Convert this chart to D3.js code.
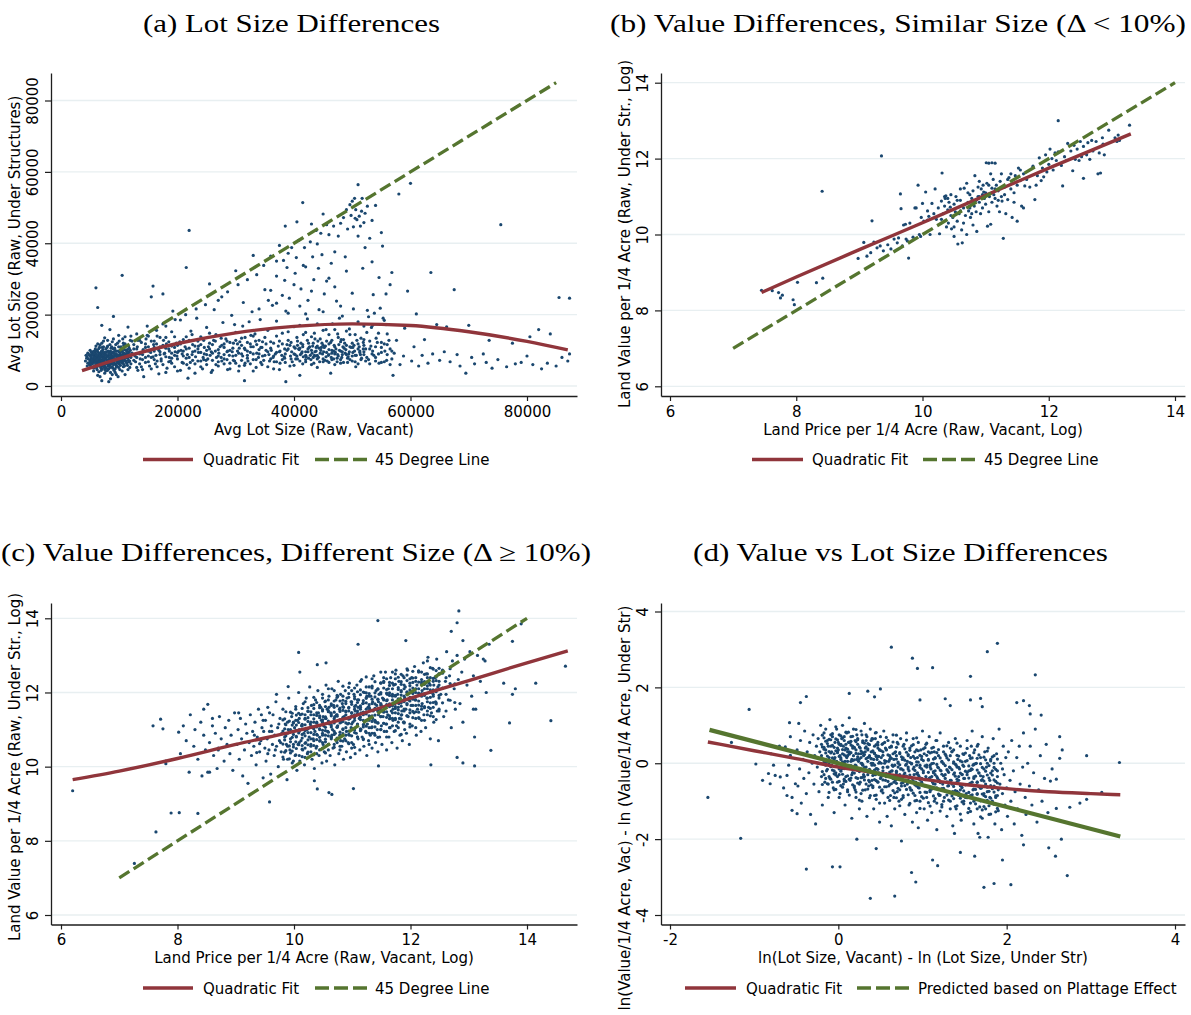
<!DOCTYPE html>
<html><head><meta charset="utf-8">
<script src="https://cdn.jsdelivr.net/npm/d3@7"></script>
<style>body{margin:0;background:#fff}svg{display:block}</style>
</head><body>
<script>
// ---------------- DATA ----------------
const panelTitles = ["(a) Lot Size Differences", "(b) Value Differences, Similar Size (Δ < 10%)", "(c) Value Differences, Different Size (Δ ≥ 10%)", "(d) Value vs Lot Size Differences"];
const xTitles = ["Avg Lot Size (Raw, Vacant)", "Land Price per 1/4 Acre (Raw, Vacant, Log)", "Land Price per 1/4 Acre (Raw, Vacant, Log)", "ln(Lot Size, Vacant) - ln (Lot Size, Under Str)"];
const yTitles = ["Avg Lot Size (Raw, Under Structures)", "Land Value per 1/4 Acre (Raw, Under Str., Log)", "Land Value per 1/4 Acre (Raw, Under Str., Log)", "ln(Value/1/4 Acre, Vac) - ln (Value/1/4 Acre, Under Str)"];
const legendFit = "Quadratic Fit";
const legendRef = ["45 Degree Line", "45 Degree Line", "45 Degree Line", "Predicted based on Plattage Effect"];

const ticksA_x = [0, 20000, 40000, 60000, 80000];
const ticksA_y = [0, 20000, 40000, 60000, 80000];
const ticksB_x = [6, 8, 10, 12, 14];
const ticksB_y = [6, 8, 10, 12, 14];
const ticksC_x = [6, 8, 10, 12, 14];
const ticksC_y = [6, 8, 10, 12, 14];
const ticksD_x = [-2, 0, 2, 4];
const ticksD_y = [-4, -2, 0, 2, 4];

// (a) quadratic fit and 45-degree line
const fitA_x = [3600, 10000, 20000, 30000, 40000, 50000, 60000, 70000, 80000, 87000];
const fitA_y = [4300, 7700, 11900, 14900, 16700, 17400, 16950, 15200, 12500, 10100];
const refA_x = [10000, 85000];
const refA_y = [10000, 85000];
// (b)
const fitB_x = [7.45, 8, 9, 10, 11, 12, 13.3];
const fitB_y = [8.47, 8.88, 9.6, 10.31, 11.03, 11.75, 12.65];
const refB_x = [7, 14];
const refB_y = [7, 14];
// (c)
const fitC_x = [6.2, 7, 8, 9, 10, 11, 12, 13, 14, 14.7];
const fitC_y = [9.65, 9.88, 10.22, 10.6, 10.95, 11.35, 11.85, 12.32, 12.8, 13.12];
const refC_x = [7, 14];
const refC_y = [7, 14];
// (d)
const fitD_x = [-1.55, -1, -0.5, 0, 0.5, 1, 1.5, 2, 2.5, 3, 3.35];
const fitD_y = [0.56, 0.33, 0.12, -0.1, -0.27, -0.42, -0.56, -0.67, -0.75, -0.8, -0.83];
const refD_x = [-1.53, 3.35];
const refD_y = [0.88, -1.93];

// (a) scatter: [vacant lot size, lot size under structures]
const lotPoints = [
[4500,8200],[4800,6500],[5000,7200],[5200,5400],[5300,8800],[5500,6800],[5600,4200],[5700,7600],[5800,9500],[6000,6000],[6000,27500],[6100,5100],[6200,8000],[6300,22000],[6300,3000],[6400,7000],[6500,9200],[6600,5800],[6700,11500],[6800,6600],[6900,8400],[7000,4800],[7000,17000],[7100,7400],[7200,10200],[7300,6200],[7400,8800],[7500,3600],[7500,13500],[7600,5400],[7700,7800],[7800,9600],[7900,6800],[8000,4400],[8000,11200],[8100,7200],[8200,8600],[8300,5800],[8400,15800],[8500,9800],[8500,2000],[8600,6400],[8700,7600],[8800,12400],[8900,5000],[9000,8200],[9000,19500],[9100,6800],[9200,10600],[9300,3800],[9400,7400],[9500,9000],[9600,5600],[9700,12000],[9800,7800],[9900,14200],[10000,6200],[10000,9600],[10100,4600],[10200,8400],[10300,11000],[10500,31000],[10500,7000],[10600,13200],[10700,5400],[10800,9200],[10900,7600],[11000,11800],[11000,3200],[11200,8600],[11300,6400],[11400,10200],[11500,16500],[11600,7200],[11700,9400],[11800,5200],[11900,12800],[12000,8000],
[5200,7800],[5600,8400],[5900,7000],[6200,6600],[6400,8600],[6600,7400],[6800,9000],[7000,6400],[7200,8200],[7400,7000],[7600,9000],[7800,7400],[8000,8200],[8200,6600],[8400,7800],[8600,8800],[8800,7000],[9000,7000],[9200,8800],[9400,6000],[9600,8000],[9800,9800],[6500,10500],[7300,11000],[8600,10600],[9400,11600],[5800,5600],[6900,5000],[8100,5600],[9300,4800],[7700,4200],[6100,9800],[10400,8000],[10800,6000],[7000,8600],[8300,9400],[7000,1500],[8200,1200],[9800,2600],[6700,2600],[8800,3200],
[5400,6200],[6000,7600],[6600,8200],[7200,5800],[7800,6200],[8400,7000],[9000,9400],[9600,7000],[10200,7400],[10800,8400],[11400,7800],[7500,8000],[8900,8000],[6300,6800],[5000,8600],
[4200,7000],[4300,8600],[4500,5600],[4600,9200],[4700,7600],[4900,6000],[5000,10000],[5100,8200],[5300,6400],[5400,9600],[5500,7400],[5600,5000],[5700,8800],[5800,6600],[5900,10400],[6000,8400],[6100,7200],[6200,4600],[6300,9600],[6400,5600],[6500,7800],[6600,10800],[6700,6200],[6800,8000],[6900,4400],[7000,9800],[7100,5600],[7200,7000],[7300,12600],[7400,9400],[7500,6000],[7600,7600],[7700,10400],[7800,5000],[7900,8400],[8000,6200],[8100,9800],[8200,4800],[8300,7600],[8400,11600],[8500,6000],[8600,8000],[8700,9200],[8800,5400],[8900,7200],[9000,10400],[9100,4400],[9200,6200],[9300,8600],[9400,9800],[9500,5400],[9600,7400],[9700,8600],[9800,6400],[9900,11000],[10000,7800],[10100,9000],[10200,5800],[10300,7200],[10400,10400],[10500,8800],[10600,6400],[10700,8000],[10800,11400],[10900,5600],[11000,9000],[11100,7000],[11200,10000],[11300,8000],[11400,5800],[11500,9600],[11600,11200],[11700,6800],[11800,8200],[11900,10000],[12000,6200],[5500,9000],[6200,10000],[6800,7200],[7400,5200],[7900,10800],[8400,5200],[8900,9400],[9400,8400],[9900,6800],[10400,6600],[10900,10200],[11400,8800],[5000,5800],[6000,11200],[7000,12000],[8000,12800],[9000,13200],[10000,12600],[11000,13800],[12000,14000],[6500,4000],[7500,4600],[8500,3800],[9500,3200],[10500,4200],[11500,4600],
[4400,7800],[4600,6400],[4800,8800],[5000,6600],[5200,9400],[5400,7200],[5600,8000],[5800,7800],[6000,9000],[6200,7400],[6400,6200],[6600,9000],[6800,5400],[7000,7200],[7200,9200],[7400,7800],[7600,6400],[7800,8600],[8000,7000],[8200,9200],[8400,6400],[8600,7200],[8800,8400],[9000,6000],[9200,7600],[9400,9000],[9600,6600],[9800,8600],[10000,7000],[10200,9600],[10400,7600],[10600,9400],[10800,7000],[11000,8200],[11200,6800],[11400,9200],[11600,8400],[11800,7000],[5300,7000],[5700,9800],[6100,8600],[6500,6600],[6900,9600],[7300,7600],[7700,8800],[8100,6800],[8500,8400],[8900,6600],[9300,10000],[9700,7200],[10100,8200],[10500,10000],[10900,8800],[11300,9600],[11700,10600],[6300,11800],[7100,10800],[8700,11000],[9900,5200],[10700,12000],
[12500,10400],[12800,6800],[13000,14600],[13200,4400],[13500,9000],[13800,12200],[14000,7400],[14200,2600],[14500,10800],[14800,16800],[15000,8400],[15200,5600],[15500,25000],[15500,12600],[15800,28000],[16000,9800],[16200,6200],[16500,14000],[16800,3400],[17000,11000],[17200,7600],[17500,25800],[17500,17400],[17800,9200],[18000,13600],[18200,5000],[18500,10400],[18800,7000],[19000,15200],[19200,21000],[19500,8600],[19800,12000],[20000,4200],[20200,9800],[20500,18500],[20800,6600],[21000,13000],[21500,33200],[21500,10400],[21800,2200],[22000,8000],[22000,43600],[22300,15400],[22600,11600],[23000,6200],[23300,19000],[23600,9400],[24000,13800],[24300,4800],[24600,10800],[25000,16400],[25200,7600],[25500,28600],[25500,12000],[25800,3800],[26000,9200],[26300,21400],[26600,14400],[27000,6800],[27300,11000],[27600,25000],[27800,17800],[28000,8800],[28300,13200],[28600,4600],[29000,10000],[29300,19800],[29600,7200],[30000,15000],[30000,32300],[30300,11800],[30600,5600],[31000,9000],[31300,23400],[31500,1500],[31600,13600],[32000,7800],[32300,18000],[32600,11000],[33000,36600],[33000,4200],[33300,14600],[33600,9200],[34000,21600],[34300,6600],[34600,12400],[35000,27000],
[13000,8000],[14000,9600],[15000,11000],[16000,7400],[17000,8800],[18000,10600],[19000,6400],[20000,11400],[21000,8400],[22000,12800],[23000,9800],[24000,7000],[25000,10000],[26000,11600],[27000,8400],[28000,10800],[29000,6400],[30000,8600],[31000,11400],[32000,9800],[33000,7400],[34000,10200],[13800,5400],[15800,8200],[17600,12800],[19600,9600],[21600,6000],[23600,11200],[25600,8600],[27600,7000],[29600,12000],[31600,6400],[33600,11600],[12200,12600],[14600,13200],[16400,11800],[18600,8000],[20600,10000],[22600,7200],[24600,9000],[26600,6000],[28600,9800],[30600,10600],[32600,14200],[34600,8400],
[12500,7200],[12500,11600],[13000,5200],[13000,10400],[13500,12800],[13500,6200],[14000,8800],[14000,4600],[14500,6600],[14500,11800],[15000,9800],[15000,14000],[15500,4800],[15500,8000],[16000,10800],[16000,12600],[16500,7000],[16500,5400],[17000,13600],[17000,9600],[17500,6000],[17500,11400],[18000,8200],[18000,3800],[18500,12400],[18500,6800],[19000,9200],[19000,11200],[19500,5400],[19500,13800],[20000,7600],[20000,9400],[20500,11800],[20500,4400],[21000,6400],[21000,9800],[21500,13800],[21500,7800],[22000,5000],[22000,10600],[22500,8800],[22500,14400],[23000,11200],[23000,3600],[23500,7000],[23500,12600],[24000,9400],[24000,5400],[24500,12800],[24500,7400],[25000,6000],[25000,8800],[25500,10400],[25500,14800],[26000,4400],[26000,7200],[26500,9800],[26500,12600],[27000,5600],[27000,10200],[27500,8000],[27500,13400],[28000,6200],[28000,11800],[28500,9600],[28500,7400],[29000,12200],[29000,4800],[29500,8400],[29500,10600],[30000,6400],[30000,12800],[30500,9200],[30500,4200],[31000,7200],[31000,13400],[31500,10600],[31500,5800],[32000,8600],[32000,12200],[32500,6200],[32500,9400],[33000,11000],[33000,14000],[33500,7400],[33500,5200],[34000,9000],[34000,12800],[34500,6000],[34500,10800],[35000,8600],[35000,13600],[35500,5400],[35500,9600],[36000,10600],[36000,7600],[36500,12000],[36500,8400],[37000,6800],[37000,14000],[37500,9600],[37500,4600],[38000,7400],[38000,11800],[38500,9000],[38500,6600],[39000,10400],[39000,15200],[39500,7600],[39500,12200],[40000,5800],[40000,11000],[40500,8400],[40500,13600],[41000,10600],[41000,7000],[41500,6200],[41500,11600],[42000,9600],[42000,15000],[42500,7800],[42500,12000],[43000,6000],[43000,10000],[43500,8600],[43500,14800],[44000,11200],[44000,7600],[44500,9200],[44500,13200],[45000,6800],[45000,11400],[45500,8200],[45500,15800],[46000,10200],[46000,6600],[46500,7400],[46500,12800],[47000,11000],[47000,6000],[47500,8800],[47500,14600],[48000,9800],[48000,7400],[48500,6600],[48500,13000],[49000,11400],[49000,8800],[49500,9600],[49500,16000],[50000,7000],[50000,12000],[50500,8600],[50500,14400],[51000,10400],[51000,6200],[51500,7400],[51500,13400],[52000,11400],[52000,9600],[52500,8000],[52500,15000],[53000,6200],[53000,12600],[53500,9800],[53500,17000],[54000,7000],[54000,11000],[54500,9000],[54500,14800],[55000,10800],[55000,12200],[55500,6800],[55500,18400],[56000,8800],[56000,11600],[56500,10400],[56500,6000],
[12200,9200],[12700,8400],[13100,11000],[13600,7600],[14100,10200],[14500,8000],[15000,6800],[15400,9400],[15900,11600],[16300,8600],[16800,10000],[17200,7000],[17700,9000],[18100,11800],[18600,9800],[19000,7800],[19500,10800],[19900,8400],[20400,12400],[20800,9000],[21300,11000],[21700,8800],[22200,6600],[22600,9600],[23100,8200],[23500,10400],[24000,11600],[24400,8000],[24900,7200],[25300,11000],[25800,9600],[26200,12800],[26700,8000],[27100,9200],[27600,11400],[28000,7600],[28500,12600],[28900,8600],[29400,9600],[29800,7000],[30300,9800],[30700,12400],[31200,8400],[31600,10200],[32100,7000],[32500,11800],[33000,9000],[33400,12600],[33900,8000],[34300,10800],[34800,7200],[35200,11800],[35700,8800],[36100,10000],[36600,6800],[37000,9400],[37500,12600],[37900,8600],[38400,7800],[38800,10000],[39300,11400],[39700,6800],[40200,10600],[40600,7600],[41100,8800],[41500,11000],[42000,8600],[42400,10400],[42900,7400],[43300,12000],[43800,9800],[44200,8000],[44700,10800],[45100,9600],[45600,12600],[46000,8800],[46500,9200],[46900,11400],[47400,7800],[47800,10000],[48300,9600],[48700,12000],[49200,7800],[49600,11000],[50100,9400],[50500,6800],[51000,11800],[51400,8800],[51900,12200],[52300,10400],[52800,7400],[53200,11200],[53700,8600],[54100,13400],[54600,6400],[55000,9400],[55500,11800],[55900,7200],[56300,12800],[56800,9800],
[35200,10000],[35500,15600],[35800,7000],[36000,36400],[36000,12400],[36300,22600],[36500,4800],[36800,9000],[37000,18200],[37000,30800],[37300,11200],[37500,39400],[37600,6400],[38000,14800],[38000,25400],[38300,8200],[38500,44800],[38600,1200],[38800,11600],[39000,20400],[39000,37200],[39300,5600],[39600,9600],[40000,16600],[40000,28400],[40300,7600],[40500,46000],[40600,12600],[41000,22400],[41000,3000],[41300,9200],[41500,51400],[41600,14400],[42000,33400],[42000,6800],[42300,18800],[42600,10800],[43000,26600],[43000,45400],[43300,8000],[43600,13200],[44000,39800],[44000,5200],[44300,21400],[44600,10000],[45000,48200],[45000,15600],[45300,7200],[45600,29400],[46000,11800],[46000,42400],[46300,3600],[46600,17400],[47000,9000],[47000,37600],[47300,23800],[47600,13600],[48000,45600],[48000,6400],[48300,19600],[48600,10600],[49000,32200],[49000,49400],[49300,8200],[49600,14400],[50000,51800],[50000,26000],[50300,11400],[50500,47000],[50600,5400],[51000,56400],[51000,42000],[51000,18000],[51300,9400],[51600,49000],[51800,33000],[52000,13000],[52000,45800],[52300,7000],[52600,21200],[53000,41400],[53000,10400],[53300,16400],[53600,25600],[54000,8000],[54000,50600],[54300,12200],[54600,30400],[55000,43000],[55000,6600],[55300,19000],[55600,9800],[56000,14600],[56500,28400],[56800,7600],[57000,3000],
[40000,9000],[40800,10400],[41600,8200],[42400,9600],[43200,11200],[44000,8600],[44800,12000],[45600,9400],[46400,8000],[47200,10400],[48000,12400],[48800,9200],[49600,7400],[50400,9800],[51200,11000],[52000,8800],[42000,7400],[43600,9600],[45200,10800],[46800,7600],[48400,11000],[50000,8400],[41200,12000],[44400,6800],[47600,8400],[50800,12800],[39400,8400],[38400,10400],[36400,8000],[37600,9800],[43000,13800],[46000,14400],[49000,15400],[52000,16800],[44000,17400],[47000,15800],[41000,17000],[39000,12800],[45000,7600],[46800,9800],[48200,8000],[43800,10800],[42800,8600],[49800,10800],[51600,7800],[53400,9000],
[40200,8800],[40900,10200],[41400,9600],[42100,8200],[42700,11000],[43100,9200],[43700,8400],[44300,10600],[44900,9000],[45400,11200],[45900,8600],[46500,10000],[47100,9400],[47700,11600],[48300,8800],[48900,10200],[49400,9000],[50100,10800],[50700,8600],[51300,9800],[44100,12600],[46300,12200],[48100,13000],[42300,12800],[40600,11400],[45700,7000],[47400,6800],[49200,6600],[43400,6400],[51900,10400],
[48500,47200],[49200,44000],[49800,47800],[50200,44600],[50600,49400],[50800,46600],[51200,47600],[51400,44800],[51700,52600],[52200,48400],[52600,50400],[53400,46400],[50400,52600],[49600,50800],[47600,42000],[46800,44800],[45600,45200],[44600,42800],[43800,43600],[42800,40400],[41800,38800],[40400,36000],[39600,38800],[38200,35200],[37000,35000],[34800,33800],[33600,31200],[32000,29800],[30400,28400],[28600,26400],[27000,24000],[24800,22800],[23200,21600],[21400,20000],[19600,18600],[18000,16800],[16400,15600],[14800,14200],[13200,12800],
[36000,26800],[37000,23200],[38400,29600],[39200,24600],[40200,31600],[41200,27200],[42400,24000],[43400,29800],[44200,33000],[45200,25800],[46000,30200],[47000,27800],[48000,22400],[48800,36200],[46400,34400],[44800,36800],[43200,36200],[41600,33800],[40800,40800],[38800,33200],[35600,24000],[34200,18600],[32800,20800],[31200,16800],[29800,17200],[38600,21000],[42000,20200],[45000,20800],[47800,19000],[50200,21600],[52800,19400],[53800,20400],[54800,21800],[55800,17200],[53400,34800],[52200,38800],[55200,39200],[56800,31800],[55800,25800],
[57200,9200],[57600,12800],[58000,53800],[58200,6000],[58800,8400],[59000,16200],[59500,26600],[60000,56800],[60200,7000],[60600,11000],[61000,20200],[61400,5600],[62000,8600],[62400,13000],[63000,6400],[63500,31800],[63800,9000],[64500,17200],[65000,7200],[65800,9600],[66200,16600],[66800,6800],[67500,27000],[68000,8800],[68500,5600],[69500,3600],[70000,17000],[70500,8000],[71000,6200],[72500,9000],[73000,6600],[73500,12800],[74000,5000],[75000,7400],[75500,45200],[76500,5400],[77500,12000],[78000,6200],[79000,6600],[80000,8400],[80500,13800],[81000,6000],[82000,15800],[82500,4800],[83500,6400],[84000,14600],[85000,5600],[85500,24800],[86000,8000],[87300,24600],[87300,9000],[87000,7000]
];

// (b) scatter: [log vacant price, log value under structures]
const simPoints = [
[7.45,8.53],[7.62,8.52],[7.72,8.47],[7.75,8.33],[7.78,8.4],[7.95,8.28],[7.97,8.15],[8.02,8.74],[8.32,8.73],[8.42,8.85],[8.41,11.14],[9.35,12.07],
[8.98,9.37],[9.07,9.79],[9.12,9.43],[9.18,9.52],[9.2,10.36],[9.23,9.8],[9.28,9.65],[9.33,9.7],[9.38,9.57],[9.45,9.73],[9.5,9.62],[9.55,9.88],[9.6,9.78],[9.62,9.91],[9.65,11.07],[9.66,10.68],[9.68,9.7],[9.7,10.25],[9.73,10.27],[9.74,9.88],[9.76,9.83],[9.78,9.38],[9.8,10.3],[9.85,9.93],[9.88,10.7],[9.93,11.3],[9.95,10],[9.97,9.95],
[10,10.82],[10.02,10.35],[10.05,11.12],[10.08,10.62],[10.1,10.48],[10.12,10],[10.15,10.82],[10.18,10.55],[10.2,11.2],[10.22,10.4],[10.25,10.7],[10.27,10.02],[10.3,10.88],[10.31,11.62],[10.33,10.55],[10.35,10.75],[10.36,10.95],[10.37,11.02],[10.38,10.2],[10.4,10.65],[10.41,10.3],[10.42,10.85],[10.44,10.72],[10.45,11.05],[10.46,10.15],[10.48,10.45],[10.5,9.95],[10.5,10.8],[10.52,10.6],[10.53,11],[10.55,10.35],[10.56,9.75],[10.58,10.55],[10.6,10.9],[10.6,11.2],[10.62,10.12],[10.63,9.78],[10.65,10.7],[10.66,11.22],[10.68,10.5],[10.7,10],[10.7,11.35],[10.72,10.85],[10.73,10.62],[10.75,11.05],[10.76,10.45],[10.78,10.95],[10.8,11.15],[10.8,10.25],[10.82,10.75],[10.83,11.55],[10.85,10.6],[10.86,10.08],[10.88,11],[10.9,10.85],[10.9,11.4],[10.92,10.55],[10.93,11.2],[10.95,10.7],[10.96,11.3],[10.98,10.95],[11,11.1],[11,10.8],[11.02,11.35],[11.03,10.22],[11.05,11.88],[11.06,11],[11.08,10.27],[11.1,11.22],[11.1,10.85],[11.12,11.45],[11.13,11.05],[11.15,11.88],[11.15,10.95],[11.17,11.3],[11.18,10.75],[11.2,11.15],[11.22,10.6],[11.23,11.4],[11.25,11],[11.26,10.88],[11.28,9.9],[11.3,11.25],[11.32,10.55],[11.35,10.92],[11.37,11.5],[11.4,11.2],[11.42,10.45],[11.45,11.1],[11.47,11.55],[11.5,10.35],[11.5,11.3],[11.52,11.75],[11.55,11.42],[11.57,10.75],[11.6,11.6],[11.62,11.28],[11.65,11.45],[11.7,11.25],[11.75,11.8],[11.78,10.92],[11.8,11.3],[11.82,11.55],[11.85,12.02],[11.88,11.42],[11.9,11.75],[11.92,11.52],[11.95,12.1],[11.97,11.65],[12,11.85],[12.02,12.25],[12.05,12],[12.07,11.7],[12.1,12.15],[12.12,11.95],[12.15,13],[12.15,12.18],[12.2,11.82],[12.22,11.28],[12.25,12.05],[12.28,11.95],[12.3,12.4],[12.35,12.2],[12.38,11.68],[12.4,12.35],[12.42,11.98],[12.45,12.25],[12.48,11.95],[12.5,12.45],[12.52,12.05],[12.55,11.48],[12.55,12.32],[12.6,12.1],[12.62,12.42],[12.65,11.98],[12.68,12.48],[12.7,12.2],[12.75,12.45],[12.78,11.6],[12.8,12.15],[12.82,11.62],[12.85,12.55],[12.86,12.38],[12.88,12.1],[12.95,12.75],[13.05,12.55],[13.08,12.45],[13.1,12.62],[13.12,12.48],[13.28,12.88],
[10.35,11],[10.45,10.5],[10.55,10.9],[10.65,10.3],[10.75,10.7],[10.85,10.9],[10.95,11.05],[11.05,10.6],[10.4,10.95],[10.6,10.62],[10.9,11],[11.15,11.2],[10.5,10.2],[10.3,10.4],[9.9,10.7],[9.98,10.45],[10.08,10.38],[11.35,11.45],[11.45,10.85],[11.6,10.7],[11.25,11.6],[11.08,11.6],[11.01,11.89],[11.1,11.89],[10.72,11.1],[10.97,11.12],[11.05,11.3],[11.2,10.9],[11.3,11.05],[10.88,11.25],[10.78,10.55],[11.4,11.6],[11.55,11.7]
];

// (c) scatter: [log vacant price, log value under structures]
const diffPoints = [
[6.2,9.35],[7.26,7.39],[7.63,8.24],[7.89,8.75],[8.03,8.76],[8.35,8.74],[7.58,11.1],[7.71,11.28],[7.8,10.15],[7.8,10.08],[8.02,10.93],[7.75,11.02],[8.45,11.55],[8.52,9.85],[8.6,11.3],[8.7,10.45],[9.05,11.45],[9.58,9.05],[10.08,13.08],[10.1,12.55],[10.4,12.75],[10.55,12.8],[11.1,13.3],[11.44,13.94],[11.92,13.4],[12.83,14.2],[12.8,13.88],[12.7,13.65],[12.9,13.4],[13.9,13.85],[13.75,13.38],[14.66,12.71],[14.41,11.24],[14.15,12.25],[13.8,12.1],[13.75,11.95],[13.6,12.25],[13.7,11.18],[13.38,10.44],[13.1,10.8],[13.08,11.55],[13.1,10.02],[12.9,10.1],[12.8,10.25],[12.35,10.05],[11.02,9.41],[10.6,9.3],[10.65,9.25],[10.4,9.4],[10.35,9.62],[11.45,10.02],[13.3,12],[13.25,12.9],[9.9,12.16],
[8.05,10.35],[8.1,11.1],[8.15,10.7],[8.2,9.85],[8.22,11.4],[8.28,10.55],[8.3,11],[8.35,10.2],[8.4,11.2],[8.42,9.75],[8.45,10.85],[8.48,10.45],
[8.52,11.68],[8.55,9.85],[8.55,10.65],[8.6,11.1],[8.62,10.3],[8.65,10.9],[8.68,9.95],[8.7,10.5],[8.72,11.35],[8.75,10.75],[8.8,10.15],[8.82,11.05],[8.85,10.6],[8.88,11.25],[8.9,10.35],[8.92,10.85],[8.95,9.9],[8.98,11.45],
[9.02,10.6],[9.04,11],[9.06,10.2],[9.08,11.3],[9.1,10.75],[9.12,9.75],[9.15,10.45],[9.17,11.15],[9.19,10.9],[9.21,9.55],[9.23,10.65],[9.25,11.4],[9.27,10.3],[9.29,10.95],[9.31,10.55],[9.33,11.2],[9.35,10.05],[9.37,10.8],[9.39,11.55],[9.41,10.4],[9.43,10.7],[9.45,11.05],[9.47,9.7],[9.48,10.95],[9.5,10.5],
[9.32,10.85],[9.41,10.62],[9.47,11.25],[9.55,10.35],[9.62,10.95],[9.68,10.45],[9.74,11.15],[9.77,10.65],[9.36,10.38],[9.44,11.4],[9.58,11.45],[9.7,11.95],
[9.51,11.25],[9.52,10.15],[9.54,10.75],[9.55,11.6],[9.57,10.45],[9.58,10.95],[9.6,9.8],[9.61,11.1],[9.63,10.6],[9.64,11.4],[9.66,10.3],[9.67,10.85],[9.69,11.75],[9.7,10.55],[9.72,11.05],[9.73,10],[9.75,10.7],[9.76,11.3],[9.78,10.4],[9.79,10.9],[9.81,11.55],[9.82,10.2],[9.84,10.8],[9.85,11.15],[9.87,10.6],[9.88,9.65],[9.9,11],[9.91,11.85],[9.93,10.45],[9.94,10.75],[9.96,11.35],[9.97,10.1],[9.98,10.95],[9.99,11.2],[9.99,10.6],
[10.01,11.05],[10.02,10.3],[10.03,11.55],[10.04,10.8],[10.05,9.9],[10.06,11.25],[10.07,10.6],[10.08,12],[10.09,10.95],[10.1,10.15],[10.11,11.4],[10.12,10.7],[10.13,11.1],[10.15,10.45],[10.16,11.7],[10.17,10.9],[10.18,10.05],[10.19,11.3],[10.2,10.65],[10.21,11.85],[10.22,11],[10.23,10.35],[10.24,11.5],[10.26,10.8],[10.27,12.15],[10.28,11.15],[10.29,10.55],[10.3,11.65],[10.31,10.2],[10.32,11.05],[10.33,10.75],[10.34,11.4],[10.35,9.95],[10.36,10.95],[10.37,11.8],[10.38,10.5],[10.39,11.2],[10.4,10.85],[10.41,12.05],[10.42,11.45],[10.43,10.3],[10.44,11],[10.45,10.7],[10.46,11.6],[10.47,11.25],[10.48,10.1],[10.49,10.9],[10.49,11.95],[10.5,11.35],[10.5,10.6],
[10.51,11.1],[10.52,10.4],[10.53,11.75],[10.54,10.85],[10.55,12.2],[10.55,11.3],[10.56,10.15],[10.57,11.55],[10.58,10.95],[10.59,10.6],[10.6,11.9],[10.61,11.15],[10.62,10.3],[10.63,11.45],[10.64,10.8],[10.65,12.1],[10.66,11],[10.67,10.5],[10.68,11.65],[10.69,11.25],[10.7,10.05],[10.71,10.9],[10.72,11.8],[10.73,11.4],[10.74,10.65],[10.75,11.1],[10.76,12.3],[10.77,10.35],[10.78,11.55],[10.79,10.85],[10.8,11.95],[10.81,11.2],[10.82,10.55],[10.83,11.7],[10.84,11],[10.85,10.2],[10.86,11.35],[10.87,10.75],[10.88,12.05],[10.89,11.5],[10.9,10.95],[10.9,10.4],[10.91,11.85],[10.92,11.15],[10.93,10.65],[10.94,11.6],[10.95,10.85],[10.95,12.25],[10.96,11.3],[10.97,10.25],[10.98,11.05],[10.98,11.75],[10.99,10.5],[10.99,11.45],[10.6,11.6],[10.7,11.35],[10.8,10.7],[10.65,10.85],[10.85,11.6],[10.75,11.9],
[11.01,11.2],[11.02,10.6],[11.03,11.95],[11.04,11.4],[11.05,10.35],[11.06,11.65],[11.07,10.9],[11.08,12.2],[11.09,11.1],[11.1,10.75],[11.11,11.8],[11.12,11.3],[11.13,10.45],[11.14,11.55],[11.15,11],[11.16,12.35],[11.17,10.8],[11.18,11.7],[11.19,11.25],[11.2,10.55],[11.21,12],[11.22,11.45],[11.23,10.95],[11.24,11.85],[11.25,10.3],[11.26,11.15],[11.27,11.6],[11.28,10.7],[11.29,12.15],[11.3,11.35],[11.31,10.85],[11.32,11.9],[11.33,11.05],[11.34,10.5],[11.35,11.75],[11.36,11.5],[11.37,12.45],[11.38,10.9],[11.39,11.25],[11.4,10.65],[11.41,12.05],[11.42,11.65],[11.43,11],[11.44,10.4],[11.45,11.4],[11.46,11.95],[11.47,10.8],[11.48,11.55],[11.49,12.25],[11.5,11.1],[11.05,11.5],[11.15,11.45],[11.25,11.9],[11.35,11.3],[11.45,11.75],[11.1,11.6],[11.2,11.15],[11.3,11.55],[11.4,11.2],[11.5,11.65],
[11.51,10.6],[11.52,11.85],[11.53,11.35],[11.54,12.3],[11.55,10.95],[11.56,11.6],[11.57,12.55],[11.58,11.15],[11.59,10.45],[11.6,11.8],[11.61,11.4],[11.62,12.1],[11.63,10.8],[11.64,11.65],[11.65,11.05],[11.66,12.4],[11.67,11.5],[11.68,10.65],[11.69,11.9],[11.7,11.25],[11.71,12.2],[11.72,10.95],[11.73,11.7],[11.74,11.45],[11.75,12.6],[11.76,11.1],[11.77,10.5],[11.78,11.95],[11.79,11.6],[11.8,12.3],[11.81,11.3],[11.82,10.85],[11.83,11.8],[11.84,12.05],[11.85,11.5],[11.86,10.7],[11.87,12.45],[11.88,11.2],[11.89,11.75],[11.9,11],[11.91,12.15],[11.92,11.55],[11.93,10.9],[11.94,11.95],[11.95,12.6],[11.96,11.35],[11.97,11.8],[11.98,10.6],[11.99,12.25],[11.6,11.95],[11.7,11.55],[11.8,11.7],[11.9,11.85],[11.65,11.3],[11.85,11.4],
[12.01,11.65],[12.02,12.4],[12.03,11.1],[12.04,12],[12.06,11.45],[12.07,12.7],[12.08,11.8],[12.1,10.85],[12.11,12.2],[12.12,11.55],[12.14,12.55],[12.15,11.3],[12.16,11.95],[12.18,10.95],[12.19,12.35],[12.2,11.7],[12.22,12.8],[12.23,11.4],[12.24,12.1],[12.26,11.05],[12.27,12.5],[12.28,11.85],[12.3,12.95],[12.31,11.6],[12.32,12.25],[12.34,10.75],[12.35,12],[12.36,11.45],[12.38,12.65],[12.39,11.9],[12.4,11.2],[12.42,12.4],[12.43,11.75],[12.45,12.9],[12.46,11.5],[12.47,12.15],[12.48,10.7],[12.49,12.5],[12.2,12.05],[12.4,12.2],
[12.52,11.95],[12.55,12.6],[12.57,11.35],[12.6,12.3],[12.62,13.1],[12.65,11.8],[12.67,12.45],[12.7,11.05],[12.72,12.85],[12.75,12.1],[12.77,11.55],[12.8,13],[12.82,12.35],[12.85,11.7],[12.88,12.55],[12.9,11.2],[12.93,12.9],[12.97,12.2],
[13.02,13.1],[13.05,11.9],[13.08,12.45],[13.12,11.55],[13.15,13],[13.2,12.3],[13.28,12.85],[13.35,13.3],
[9.81,10.26],[9.81,10.61],[9.81,10.96],[9.81,11.26],[9.86,10.43],[9.86,10.83],[9.86,11.13],[9.86,11.48],[9.92,10.21],[9.92,10.56],[9.92,10.93],[9.92,11.23],[9.97,10.42],[9.97,10.79],[9.97,11.12],[9.97,11.44],
[10.03,10.32],[10.03,10.67],[10.03,10.97],[10.03,11.25],[10.03,11.62],[10.08,10.59],[10.08,10.91],[10.08,11.19],[10.08,11.44],[10.14,10.27],[10.14,10.57],[10.14,10.87],[10.14,11.14],[10.14,11.42],[10.19,10.5],[10.19,10.83],[10.19,11.13],[10.19,11.4],[10.19,11.75],[10.24,10.39],[10.24,10.72],[10.24,11.02],[10.24,11.32],[10.24,11.59],[10.29,10.6],[10.29,10.92],[10.29,11.2],[10.29,11.48],[10.34,10.32],[10.34,10.7],[10.34,11.02],[10.34,11.29],[10.34,11.57],[10.34,11.87],[10.39,10.55],[10.39,10.87],[10.39,11.17],[10.39,11.45],[10.39,11.73],[10.44,10.45],[10.44,10.79],[10.44,11.1],[10.44,11.37],[10.44,11.65],[10.49,10.65],[10.49,10.98],[10.49,11.26],[10.49,11.54],[10.49,11.85],
[10.54,10.37],[10.54,10.74],[10.54,11.06],[10.54,11.34],[10.54,11.62],[10.59,10.6],[10.59,10.93],[10.59,11.23],[10.59,11.51],[10.59,11.8],[10.59,12.1],[10.64,10.75],[10.64,11.07],[10.64,11.37],[10.64,11.65],[10.69,10.52],[10.69,10.87],[10.69,11.18],[10.69,11.47],[10.69,11.77],[10.69,12.05],[10.74,10.72],[10.74,11.06],[10.74,11.36],[10.74,11.64],[10.74,11.92],[10.79,10.45],[10.79,10.85],[10.79,11.18],[10.79,11.49],[10.79,11.77],[10.84,10.69],[10.84,11.02],[10.84,11.33],[10.84,11.62],[10.84,11.9],[10.84,12.17],[10.89,10.85],[10.89,11.18],[10.89,11.48],[10.89,11.76],[10.94,10.62],[10.94,10.96],[10.94,11.28],[10.94,11.58],[10.94,11.87],[10.94,12.14],[10.99,10.83],[10.99,11.15],[10.99,11.45],[10.99,11.75],[10.99,12.05],
[11.04,10.52],[11.04,10.92],[11.04,11.25],[11.04,11.55],[11.04,11.83],[11.04,12.12],[11.09,10.8],[11.09,11.13],[11.09,11.44],[11.09,11.73],[11.09,12.02],[11.14,11.02],[11.14,11.34],[11.14,11.64],[11.14,11.94],[11.14,12.3],[11.19,10.73],[11.19,11.07],[11.19,11.4],[11.19,11.71],[11.19,12.01],[11.24,10.92],[11.24,11.25],[11.24,11.55],[11.24,11.85],[11.24,12.15],[11.24,12.42],[11.29,10.6],[11.29,11.05],[11.29,11.37],[11.29,11.67],[11.29,11.97],[11.34,10.9],[11.34,11.22],[11.34,11.52],[11.34,11.82],[11.34,12.12],[11.34,12.37],[11.39,11.07],[11.39,11.39],[11.39,11.69],[11.39,11.99],[11.39,12.29],[11.44,10.79],[11.44,11.17],[11.44,11.5],[11.44,11.81],[11.44,12.1],[11.49,11],[11.49,11.35],[11.49,11.66],[11.49,11.96],[11.49,12.26],[11.49,12.55],
[11.54,11.17],[11.54,11.5],[11.54,11.82],[11.54,12.12],[11.54,12.4],[11.59,10.8],[11.59,11.15],[11.59,11.48],[11.59,11.78],[11.59,12.08],[11.59,12.37],[11.64,11.05],[11.64,11.37],[11.64,11.69],[11.64,11.99],[11.64,12.27],[11.69,11.3],[11.69,11.64],[11.69,11.95],[11.69,12.25],[11.69,12.55],[11.74,10.97],[11.74,11.3],[11.74,11.62],[11.74,11.92],[11.74,12.22],[11.74,12.5],[11.79,11.2],[11.79,11.53],[11.79,11.83],[11.79,12.13],[11.79,12.41],[11.84,10.87],[11.84,11.29],[11.84,11.63],[11.84,11.93],[11.84,12.22],[11.84,12.49],[11.89,11.18],[11.89,11.5],[11.89,11.8],[11.89,12.1],[11.89,12.4],[11.94,11.37],[11.94,11.7],[11.94,12.02],[11.94,12.32],[11.94,12.64],[11.99,11.07],[11.99,11.45],[11.99,11.77],[11.99,12.07],[11.99,12.37],
[12.04,11.32],[12.04,11.65],[12.04,11.97],[12.04,12.27],[12.04,12.57],[12.09,11.05],[12.09,11.48],[12.09,11.8],[12.09,12.1],[12.09,12.4],[12.14,11.32],[12.14,11.66],[12.14,11.98],[12.14,12.28],[12.14,12.58],[12.19,11.55],[12.19,11.9],[12.19,12.23],[12.19,12.55],[12.24,11.25],[12.24,11.62],[12.24,11.97],[12.24,12.29],[12.29,11.5],[12.29,11.85],[12.29,12.18],[12.29,12.5],[12.29,12.85],[12.34,11.37],[12.34,11.72],[12.34,12.07],[12.34,12.4],[12.39,11.6],[12.39,11.95],[12.39,12.3],[12.39,12.63],[12.44,11.27],[12.44,11.72],[12.44,12.07],[12.44,12.42],[12.49,11.55],[12.49,11.92],[12.49,12.3],[12.49,12.65],[12.55,11.72],[12.55,12.12],[12.55,12.52],[12.61,11.5],[12.61,11.95],[12.61,12.4],[12.68,11.79],[12.68,12.24],[12.68,12.64],[12.76,11.73],[12.76,12.23],
[9.84,10.39],[9.84,10.72],[9.84,11.02],[9.84,11.29],[9.89,10.2],[9.89,10.55],[9.89,10.9],[9.89,11.2],[9.94,10.37],[9.94,10.67],[9.94,11],[9.94,11.47],[9.99,10.15],[9.99,10.53],[9.99,10.87],[9.99,11.18],[10.04,10.49],[10.04,10.82],[10.04,11.12],[10.04,11.39],[10.09,10.3],[10.09,10.65],[10.09,11],[10.09,11.3],[10.14,10.47],[10.14,10.77],[10.14,11.1],[10.14,11.57],[10.19,10.25],[10.19,10.63],[10.19,10.97],[10.19,11.28],[10.24,10.59],[10.24,10.92],[10.24,11.22],[10.24,11.49],[10.29,10.4],[10.29,10.75],[10.29,11.1],[10.29,11.4],[10.34,10.57],[10.34,10.87],[10.34,11.2],[10.34,11.67],[10.39,10.35],[10.39,10.73],[10.39,11.07],[10.39,11.38],[10.44,10.69],[10.44,11.02],[10.44,11.32],[10.44,11.59],[10.49,10.5],[10.49,10.85],[10.49,11.2],[10.49,11.5],
[10.54,10.67],[10.54,10.97],[10.54,11.3],[10.54,11.77],[10.59,10.45],[10.59,10.83],[10.59,11.17],[10.59,11.48],[10.64,10.79],[10.64,11.12],[10.64,11.42],[10.64,11.69],[10.69,10.6],[10.69,10.95],[10.69,11.3],[10.69,11.6],[10.74,10.77],[10.74,11.07],[10.74,11.4],[10.74,11.87],[10.79,10.55],[10.79,10.93],[10.79,11.27],[10.79,11.58],[10.84,10.89],[10.84,11.22],[10.84,11.52],[10.84,11.79],[10.89,10.7],[10.89,11.05],[10.89,11.4],[10.89,11.7],[10.94,10.87],[10.94,11.17],[10.94,11.5],[10.94,11.97],[10.99,10.65],[10.99,11.03],[10.99,11.37],[10.99,11.68],
[11.04,10.99],[11.04,11.32],[11.04,11.62],[11.04,11.89],[11.09,10.8],[11.09,11.15],[11.09,11.5],[11.09,11.8],[11.14,10.97],[11.14,11.27],[11.14,11.6],[11.14,12.07],[11.19,10.75],[11.19,11.13],[11.19,11.47],[11.19,11.78],[11.24,11.09],[11.24,11.42],[11.24,11.72],[11.24,11.99],[11.29,10.9],[11.29,11.25],[11.29,11.6],[11.29,11.9],[11.34,11.07],[11.34,11.37],[11.34,11.7],[11.34,12.17],[11.39,10.85],[11.39,11.23],[11.39,11.57],[11.39,11.88],[11.44,11.19],[11.44,11.52],[11.44,11.82],[11.44,12.09],[11.49,11],[11.49,11.35],[11.49,11.7],[11.49,12],
[11.54,11.17],[11.54,11.47],[11.54,11.8],[11.54,12.27],[11.59,10.95],[11.59,11.33],[11.59,11.67],[11.59,11.98],[11.64,11.29],[11.64,11.62],[11.64,11.92],[11.64,12.19],[11.69,11.1],[11.69,11.45],[11.69,11.8],[11.69,12.1],[11.74,11.27],[11.74,11.57],[11.74,11.9],[11.74,12.37],[11.79,11.05],[11.79,11.43],[11.79,11.77],[11.79,12.08],[11.84,11.39],[11.84,11.72],[11.84,12.02],[11.84,12.29],[11.89,11.2],[11.89,11.55],[11.89,11.9],[11.89,12.2],[11.94,11.37],[11.94,11.67],[11.94,12],[11.94,12.47],[11.99,11.15],[11.99,11.53],[11.99,11.87],[11.99,12.18],
[12.04,11.49],[12.04,11.82],[12.04,12.12],[12.04,12.39],[12.09,11.3],[12.09,11.65],[12.09,12],[12.09,12.3],[12.14,11.47],[12.14,11.77],[12.14,12.1],[12.14,12.57],[12.19,11.25],[12.19,11.63],[12.19,11.97],[12.19,12.28],[12.24,11.59],[12.24,11.92],[12.24,12.22],[12.24,12.49],[12.29,11.4],[12.29,11.75],[12.29,12.1],[12.29,12.4],[12.34,11.57],[12.34,11.87],[12.34,12.2],[12.34,12.67],[12.39,11.35],[12.39,11.73],[12.39,12.07],[12.39,12.38],[12.44,11.69],[12.44,12.02],[12.44,12.32],[12.44,12.59],[12.49,11.5],[12.49,11.85],[12.49,12.2],[12.49,12.5]
];

// (d) scatter: [lot size log difference, value log difference]
const plattPoints = [
[-1.55,-0.9],[-1.16,-1.98],[-1.06,1.42],[-1.27,0.55],[-0.98,-0.02],[-0.38,-2.79],[-0.07,-2.73],[0.02,-2.73],[0.38,-3.56],[0.67,-3.5],[0.87,-2.88],[0.92,-3.13],[1.18,-2.7],[1.12,-2.55],[1.73,-3.27],[1.85,-3.17],[2.05,-3.2],[2.72,-2.96],[2.58,-2.45],[2.5,-2.23],[2.65,-2],[0.63,3.06],[0.88,2.77],[0.94,2.5],[1.12,2.52],[1.57,2.29],[1.77,2.94],[1.89,3.16],[2.34,2.33],[0.13,1.84],[0.35,1.9],[0.43,1.75],[0.5,1.96],[-0.38,1.76],[-0.45,1.6],[0.97,1.67],[1.27,1.7],[1.33,1.52],[1.57,1.67],[1.69,1.71],[1.71,1.49],[2.12,1.6],[2.2,1.65],[2.27,1.52],[2.28,1.3],[2.41,1.27],[3.34,0.02],[2.95,0.2],[3.13,-0.77],[2.95,-0.95],[2.87,-1.05],[2.75,-1.16],[2.63,0.7],[2.66,0.35],[2.63,0.13],[2.54,-0.15],[2.59,-0.42],[2.52,-0.47],[2.59,-1.19],[0.75,-2.05],[1.45,-2.35],[1.62,-2.45],[2.2,-2.15],[1.95,-2.55],[0.22,-2.0],[0.45,-2.25],
[-0.83,-0.27],[-0.81,-0.54],[-0.75,-0.32],[-0.77,-0.05],[-0.69,-0.36],[-0.61,-0.85],[-0.59,-0.05],[-0.57,0.21],[-0.57,0.7],[-0.58,1.07],[-0.55,-1.24],[-0.49,-1.33],[-0.51,-0.54],[-0.63,0.43],[-0.61,-0.32],[-0.7,0.45],[-0.65,-0.65],[-0.8,0.25],[-0.9,-0.45],[-0.55,-0.9],
[-0.49,0.35],[-0.48,-0.6],[-0.47,1.05],[-0.46,-0.15],[-0.45,0.6],[-0.44,-1.05],[-0.42,0.1],[-0.41,-0.4],[-0.4,0.85],[-0.38,-0.8],[-0.37,0.3],[-0.35,-0.25],[-0.34,0.55],[-0.33,-1.35],[-0.31,0],[-0.3,0.75],[-0.29,-0.55],[-0.28,0.2],[-0.27,-1.6],[-0.26,0.45],
[-0.25,-0.1],[-0.24,0.65],[-0.23,-0.75],[-0.22,0.3],[-0.21,1],[-0.2,-0.35],[-0.2,0.5],[-0.19,-1.1],[-0.18,0.1],[-0.17,0.8],[-0.16,-0.5],[-0.15,0.35],[-0.14,-0.2],[-0.13,0.6],[-0.12,-0.9],[-0.11,0.15],[-0.1,1.15],[-0.1,-0.4],[-0.09,0.45],[-0.08,-0.05],[-0.07,0.7],[-0.06,-0.65],[-0.05,0.25],[-0.05,-1.3],[-0.04,0.55],[-0.03,-0.25],[-0.02,0.9],[-0.02,0.05],[-0.01,-0.5],[-0.01,0.4],[-0.15,0],[-0.08,0.3],[-0.2,0.2],[-0.12,0.45],[-0.04,0.15],
[0,0.35],[0.01,-0.3],[0.01,0.75],[0.02,-0.8],[0.03,0.1],[0.03,0.5],[0.04,-0.15],[0.05,1],[0.05,0.25],[0.06,-0.55],[0.07,0.6],[0.07,0],[0.08,-1.1],[0.09,0.4],[0.09,-0.35],[0.1,0.8],[0.1,0.15],[0.11,-0.7],[0.12,0.55],[0.12,-0.1],[0.13,1.2],[0.13,0.3],[0.14,-0.45],[0.15,0.7],[0.15,0.05],[0.16,-1.45],[0.17,0.45],[0.17,-0.25],[0.18,0.9],[0.18,0.2],[0.19,-0.6],[0.2,0.6],[0.2,-0.05],[0.21,0.35],[0.21,-0.9],[0.22,0.75],[0.22,0.1],[0.23,-0.4],[0.23,0.5],[0.24,-0.15],[0.24,0.25],[0.25,-1.2],[0.02,0.2],[0.06,0.45],[0.11,0.3],[0.16,0.1],[0.19,0.4],[0.04,0.65],[0.14,0.55],[0.08,0.05],
[0.26,0.4],[0.26,-0.5],[0.27,0.85],[0.28,0],[0.28,-1],[0.29,0.55],[0.3,-0.3],[0.3,0.2],[0.31,1.05],[0.32,-0.7],[0.32,0.4],[0.33,-0.1],[0.34,0.7],[0.34,-1.4],[0.35,0.15],[0.36,-0.45],[0.36,0.5],[0.37,-0.2],[0.38,0.9],[0.38,-0.85],[0.39,0.3],[0.4,-0.05],[0.4,0.65],[0.41,-0.6],[0.42,0.1],[0.42,-1.2],[0.43,0.45],[0.44,-0.3],[0.44,0.8],[0.45,-0.95],[0.45,0.2],[0.46,-0.15],[0.47,0.55],[0.47,-0.5],[0.48,0],[0.49,0.35],[0.49,-1.55],[0.5,-0.4],[0.27,0.15],[0.31,-0.2],[0.35,0.35],[0.39,0],[0.43,0.25],[0.46,0.1],[0.29,-0.05],[0.33,0.6],[0.37,0.2],[0.41,0.3],[0.48,-0.25],[0.5,0.7],
[0.51,0.15],[0.52,-0.7],[0.52,0.5],[0.53,-0.2],[0.54,0.85],[0.55,-1.05],[0.55,0],[0.56,-0.45],[0.57,0.35],[0.58,-1.4],[0.58,-0.1],[0.59,0.6],[0.6,-0.6],[0.61,0.2],[0.61,-0.3],[0.62,-0.85],[0.63,0.45],[0.63,-1.65],[0.64,-0.05],[0.65,0.75],[0.66,-0.5],[0.66,0.1],[0.67,-1.2],[0.68,0.3],[0.69,-0.25],[0.7,-0.75],[0.7,0.55],[0.71,0],[0.72,-0.4],[0.72,-1],[0.73,0.25],[0.74,-0.15],[0.74,0.65],[0.75,-0.6],[0.53,0.3],[0.57,-0.35],[0.6,0.05],[0.64,-0.2],[0.68,-0.45],[0.71,-0.1],[0.56,0.4],[0.62,0.15],[0.69,0.2],[0.73,-0.3],[0.66,-0.9],
[0.76,0.1],[0.77,-0.9],[0.78,-0.3],[0.78,0.5],[0.79,-1.35],[0.8,-0.05],[0.81,0.8],[0.82,-0.55],[0.83,0.2],[0.84,-1.1],[0.84,-0.2],[0.85,0.4],[0.86,-0.7],[0.87,0],[0.88,-1.55],[0.88,-0.4],[0.89,0.65],[0.9,-0.1],[0.91,-0.85],[0.91,0.3],[0.92,-0.5],[0.93,-1.3],[0.94,0.15],[0.94,-0.25],[0.95,0.55],[0.96,-0.65],[0.97,-0.05],[0.97,-1],[0.98,0.35],[0.99,-0.4],[1,0.85],[0.8,-0.45],[0.83,-0.15],[0.86,0.15],[0.9,-0.3],[0.93,-0.05],[0.96,-0.35],[0.99,0.1],[0.82,0.05],[0.95,-1.7],
[1.01,-0.2],[1.02,-1.2],[1.02,0.25],[1.03,-0.6],[1.04,0.5],[1.05,-0.9],[1.05,-0.05],[1.06,-1.5],[1.07,0.1],[1.08,-0.4],[1.08,0.7],[1.09,-0.75],[1.1,-0.15],[1.11,0.4],[1.11,-1.3],[1.12,-0.5],[1.13,0],[1.14,-1],[1.14,0.3],[1.15,-0.3],[1.16,0.6],[1.17,-0.65],[1.17,-1.75],[1.18,-0.1],[1.19,0.2],[1.2,-0.85],[1.2,-0.45],[1.21,0.8],[1.22,-0.2],[1.23,-1.15],[1.23,0.05],[1.24,-0.55],[1.25,0.45],[1.04,-0.35],[1.09,-0.1],[1.13,-0.25],[1.18,-0.4],[1.22,-0.7],[1.07,0.3],[1.15,0.15],
[1.26,-0.9],[1.27,-0.3],[1.28,0.2],[1.29,-1.4],[1.3,-0.6],[1.31,0.55],[1.32,-0.1],[1.33,-1],[1.34,-0.45],[1.35,0.3],[1.36,-1.65],[1.36,-0.75],[1.37,0],[1.38,-0.25],[1.39,0.65],[1.4,-1.2],[1.41,-0.5],[1.42,0.1],[1.43,-0.85],[1.44,-0.15],[1.45,0.45],[1.46,-1.5],[1.46,-0.6],[1.47,-0.3],[1.48,0.25],[1.49,-1],[1.5,-0.4],[1.3,-0.2],[1.35,-0.55],[1.4,-0.05],[1.45,-0.7],[1.33,0.4],[1.38,-1.85],[1.43,-0.35],[1.48,-0.05],
[1.51,0.05],[1.52,-0.8],[1.53,-0.3],[1.53,0.6],[1.54,-1.3],[1.55,-0.55],[1.56,0.2],[1.57,-1.05],[1.58,-0.15],[1.59,0.85],[1.6,-0.7],[1.61,-1.6],[1.61,-0.4],[1.62,0.35],[1.63,-0.95],[1.64,0],[1.65,-0.5],[1.66,-1.85],[1.66,0.5],[1.67,-0.25],[1.68,-1.15],[1.69,0.15],[1.7,-0.65],[1.71,-1.45],[1.71,0.7],[1.72,-0.35],[1.73,-0.85],[1.74,0.3],[1.75,-1.2],[1.55,-0.2],[1.6,-0.05],[1.65,-0.8],[1.7,-0.45],[1.58,0.45],[1.68,-1.95],
[1.76,-0.1],[1.77,-0.75],[1.78,0.4],[1.79,-1.35],[1.8,-0.45],[1.81,0.1],[1.82,-1.05],[1.83,-0.2],[1.84,0.65],[1.85,-0.6],[1.86,-1.6],[1.87,-0.9],[1.88,0.25],[1.89,-0.35],[1.9,-1.25],[1.91,0.9],[1.92,-0.55],[1.93,0],[1.94,-1.75],[1.95,-0.8],[1.96,0.45],[1.97,-0.3],[1.98,-1.1],[1.99,0.15],[2,-0.65],[1.8,-0.9],[1.85,0],[1.9,-0.7],[1.95,-0.15],[1.78,-1.95],
[2.01,-1.4],[2.02,0.3],[2.04,-0.45],[2.05,-1],[2.06,0.6],[2.08,-0.2],[2.09,-1.6],[2.1,-0.75],[2.12,0.15],[2.13,-1.2],[2.15,0.45],[2.16,-0.55],[2.18,-1.9],[2.19,-0.1],[2.2,0.8],[2.22,-0.9],[2.23,-1.35],[2.25,0],
[2.27,-0.6],[2.28,0.45],[2.3,-1.1],[2.32,-0.25],[2.34,0.9],[2.36,-1.55],[2.38,-0.7],[2.4,0.2],[2.42,-1],[2.45,-0.4],[2.47,0.5],[2.49,-1.3],
[-0.19,-0.56],[-0.19,-0.22],[-0.19,0.11],[-0.19,0.43],[-0.19,0.74],[-0.15,-0.4],[-0.15,-0.05],[-0.15,0.27],[-0.15,0.58],[-0.15,0.9],[-0.11,-0.77],[-0.11,-0.35],[-0.11,-0.02],[-0.11,0.31],[-0.11,0.63],[-0.07,-0.5],[-0.07,-0.18],[-0.07,0.14],[-0.07,0.47],[-0.07,0.78],[-0.03,-0.69],[-0.03,-0.31],[-0.03,0.01],[-0.03,0.33],[-0.03,0.64],[-0.03,0.96],
[0.01,-0.9],[0.01,-0.48],[0.01,-0.15],[0.01,0.18],[0.01,0.5],[0.05,-0.63],[0.05,-0.29],[0.05,0.04],[0.05,0.36],[0.05,0.67],[0.09,-0.48],[0.09,-0.13],[0.09,0.19],[0.09,0.5],[0.09,0.82],[0.13,-0.84],[0.13,-0.42],[0.13,-0.09],[0.13,0.24],[0.13,0.56],[0.17,-0.57],[0.17,-0.25],[0.17,0.07],[0.17,0.4],[0.17,0.71],[0.21,-0.76],[0.21,-0.38],[0.21,-0.06],[0.21,0.26],[0.21,0.57],[0.21,0.89],[0.25,-0.97],[0.25,-0.55],[0.25,-0.22],[0.25,0.11],[0.25,0.43],
[0.29,-0.71],[0.29,-0.37],[0.29,-0.04],[0.29,0.28],[0.29,0.59],[0.33,-0.55],[0.33,-0.2],[0.33,0.12],[0.33,0.43],[0.33,0.75],[0.37,-0.91],[0.37,-0.49],[0.37,-0.16],[0.37,0.17],[0.37,0.49],[0.41,-0.64],[0.41,-0.32],[0.41,0],[0.41,0.33],[0.41,0.64],[0.45,-0.84],[0.45,-0.46],[0.45,-0.14],[0.45,0.18],[0.45,0.49],[0.45,0.81],[0.49,-1.05],[0.49,-0.63],[0.49,-0.3],[0.49,0.03],[0.49,0.35],
[0.53,-0.78],[0.53,-0.44],[0.53,-0.11],[0.53,0.21],[0.53,0.52],[0.57,-0.62],[0.57,-0.27],[0.57,0.05],[0.57,0.36],[0.57,0.68],[0.61,-0.98],[0.61,-0.56],[0.61,-0.23],[0.61,0.1],[0.61,0.42],[0.65,-0.72],[0.65,-0.4],[0.65,-0.08],[0.65,0.25],[0.65,0.56],[0.69,-0.91],[0.69,-0.53],[0.69,-0.21],[0.69,0.11],[0.69,0.42],[0.69,0.74],[0.73,-1.12],[0.73,-0.7],[0.73,-0.37],[0.73,-0.04],[0.73,0.28],
[0.77,-0.85],[0.77,-0.51],[0.77,-0.18],[0.77,0.14],[0.77,0.45],[0.81,-0.69],[0.81,-0.34],[0.81,-0.02],[0.81,0.29],[0.81,0.61],[0.85,-1.06],[0.85,-0.64],[0.85,-0.31],[0.85,0.02],[0.85,0.34],[0.89,-0.79],[0.89,-0.47],[0.89,-0.15],[0.89,0.18],[0.89,0.49],[0.93,-0.98],[0.93,-0.6],[0.93,-0.28],[0.93,0.04],[0.93,0.35],[0.93,0.67],[0.97,-1.19],[0.97,-0.77],[0.97,-0.44],[0.97,-0.11],[0.97,0.21],
[1.01,-0.92],[1.01,-0.58],[1.01,-0.25],[1.01,0.07],[1.01,0.38],[1.05,-0.77],[1.05,-0.42],[1.05,-0.1],[1.05,0.21],[1.05,0.53],[1.09,-1.13],[1.09,-0.71],[1.09,-0.38],[1.09,-0.05],[1.09,0.27],[1.13,-0.86],[1.13,-0.54],[1.13,-0.22],[1.13,0.11],[1.13,0.42],[1.17,-1.05],[1.17,-0.67],[1.17,-0.35],[1.17,-0.03],[1.17,0.28],[1.17,0.6],[1.21,-1.26],[1.21,-0.84],[1.21,-0.51],[1.21,-0.18],[1.21,0.14],
[1.25,-1],[1.25,-0.66],[1.25,-0.33],[1.25,-0.01],[1.25,0.3],[1.29,-0.84],[1.29,-0.49],[1.29,-0.17],[1.29,0.14],[1.29,0.46],[1.33,-1.2],[1.33,-0.78],[1.33,-0.45],[1.33,-0.12],[1.33,0.2],[1.37,-0.93],[1.37,-0.61],[1.37,-0.29],[1.37,0.04],[1.37,0.35],[1.41,-1.12],[1.41,-0.74],[1.41,-0.42],[1.41,-0.1],[1.41,0.21],[1.41,0.53],[1.45,-1.34],[1.45,-0.92],[1.45,-0.59],[1.45,-0.26],[1.45,0.06],
[1.49,-1.07],[1.49,-0.73],[1.49,-0.4],[1.49,-0.08],[1.49,0.23],[1.53,-0.91],[1.53,-0.56],[1.53,-0.24],[1.53,0.07],[1.53,0.39],[1.57,-1.27],[1.57,-0.85],[1.57,-0.52],[1.57,-0.19],[1.57,0.13],[1.61,-1],[1.61,-0.68],[1.61,-0.36],[1.61,-0.03],[1.61,0.28],[1.65,-1.2],[1.65,-0.82],[1.65,-0.5],[1.65,-0.18],[1.65,0.13],[1.65,0.45],[1.69,-1.41],[1.69,-0.99],[1.69,-0.66],[1.69,-0.33],[1.69,-0.01],
[1.73,-1.14],[1.73,-0.8],[1.73,-0.47],[1.73,-0.15],[1.73,0.16],[1.77,-0.98],[1.77,-0.63],[1.77,-0.31],[1.77,0],[1.77,0.32],[1.81,-1.34],[1.81,-0.92],[1.81,-0.59],[1.81,-0.26],[1.81,0.06],[1.85,-1.08],[1.85,-0.76],[1.85,-0.44],[1.85,-0.11],[1.85,0.2],[1.89,-1.19],[1.89,-0.85],[1.89,-0.52],[1.89,-0.2],[1.89,0.11],
[-0.17,0.42],[-0.13,0.05],[-0.09,0.62],[-0.05,-0.2],[-0.01,0.28],[0.03,0.72],[0.07,-0.42],[0.11,0.2],[0.15,0.48],[0.19,-0.12],[0.23,0.62],[0.27,0.25],[0.31,-0.35],[0.35,0.52],[0.39,0.12],[0.43,-0.18],[0.47,0.4],[0,0.55],[0.08,0.35],[0.16,-0.3],[0.24,0.05],[0.32,0.3],[0.4,-0.45],[0.48,0.18],[0.12,0.82],[0.28,0.75],[-0.12,-0.55],[0.2,-0.7],[0.36,-0.6],[0.44,0.65],
[-0.17,-0.3],[-0.17,0.03],[-0.17,0.37],[-0.17,0.67],[-0.13,-0.54],[-0.13,-0.16],[-0.13,0.19],[-0.13,0.52],[-0.09,-0.42],[-0.09,-0.09],[-0.09,0.27],[-0.09,0.75],[-0.05,-0.7],[-0.05,-0.28],[-0.05,0.1],[-0.05,0.42],[-0.01,-0.35],[-0.01,-0.02],[-0.01,0.32],[-0.01,0.62],[0.03,-0.59],[0.03,-0.21],[0.03,0.14],[0.03,0.47],[0.07,-0.47],[0.07,-0.14],[0.07,0.22],[0.07,0.7],[0.11,-0.75],[0.11,-0.33],[0.11,0.05],[0.11,0.37],[0.15,-0.39],[0.15,-0.06],[0.15,0.28],[0.15,0.58],[0.19,-0.64],[0.19,-0.26],[0.19,0.09],[0.19,0.42],[0.23,-0.52],[0.23,-0.19],[0.23,0.17],[0.23,0.65],[0.27,-0.8],[0.27,-0.38],[0.27,0],[0.27,0.32],
[0.31,-0.44],[0.31,-0.11],[0.31,0.23],[0.31,0.53],[0.35,-0.68],[0.35,-0.3],[0.35,0.05],[0.35,0.38],[0.39,-0.57],[0.39,-0.24],[0.39,0.12],[0.39,0.6],[0.43,-0.85],[0.43,-0.43],[0.43,-0.05],[0.43,0.27],[0.47,-0.49],[0.47,-0.16],[0.47,0.18],[0.47,0.48],[0.51,-0.73],[0.51,-0.35],[0.51,0],[0.51,0.33],[0.55,-0.62],[0.55,-0.29],[0.55,0.07],[0.55,0.55],[0.59,-0.9],[0.59,-0.48],[0.59,-0.1],[0.59,0.22],[0.63,-0.54],[0.63,-0.21],[0.63,0.13],[0.63,0.43],[0.67,-0.78],[0.67,-0.4],[0.67,-0.05],[0.67,0.28],[0.71,-0.66],[0.71,-0.33],[0.71,0.03],[0.71,0.51],[0.75,-0.95],[0.75,-0.53],[0.75,-0.15],[0.75,0.17],
[0.79,-0.59],[0.79,-0.26],[0.79,0.08],[0.79,0.38],[0.83,-0.83],[0.83,-0.45],[0.83,-0.1],[0.83,0.23],[0.87,-0.71],[0.87,-0.38],[0.87,-0.02],[0.87,0.46],[0.91,-0.99],[0.91,-0.57],[0.91,-0.19],[0.91,0.13],[0.95,-0.64],[0.95,-0.31],[0.95,0.03],[0.95,0.33],[0.99,-0.88],[0.99,-0.5],[0.99,-0.15],[0.99,0.18],[1.03,-0.76],[1.03,-0.43],[1.03,-0.07],[1.03,0.41],[1.07,-1.04],[1.07,-0.62],[1.07,-0.24],[1.07,0.08],[1.11,-0.68],[1.11,-0.35],[1.11,-0.01],[1.11,0.29],[1.15,-0.93],[1.15,-0.55],[1.15,-0.2],[1.15,0.13],[1.19,-0.81],[1.19,-0.48],[1.19,-0.12],[1.19,0.36],[1.23,-1.09],[1.23,-0.67],[1.23,-0.29],[1.23,0.03],
[1.27,-0.73],[1.27,-0.4],[1.27,-0.06],[1.27,0.24],[1.31,-0.97],[1.31,-0.59],[1.31,-0.24],[1.31,0.09],[1.35,-0.86],[1.35,-0.53],[1.35,-0.17],[1.35,0.31],[1.39,-1.14],[1.39,-0.72],[1.39,-0.34],[1.39,-0.02],[1.43,-0.78],[1.43,-0.45],[1.43,-0.11],[1.43,0.19],[1.47,-1.02],[1.47,-0.64],[1.47,-0.29],[1.47,0.04],[1.51,-0.9],[1.51,-0.57],[1.51,-0.21],[1.51,0.27],[1.55,-1.19],[1.55,-0.77],[1.55,-0.39],[1.55,-0.07],[1.59,-0.83],[1.59,-0.5],[1.59,-0.16],[1.59,0.14],[1.63,-1.07],[1.63,-0.69],[1.63,-0.34],[1.63,-0.01],[1.67,-0.95],[1.67,-0.62],[1.67,-0.26],[1.67,0.22],[1.71,-1.23],[1.71,-0.81],[1.71,-0.43],[1.71,-0.11],
[1.75,-0.88],[1.75,-0.55],[1.75,-0.21],[1.75,0.09],[1.79,-1.12],[1.79,-0.74],[1.79,-0.39],[1.79,-0.06],[1.83,-1],[1.83,-0.67],[1.83,-0.31],[1.83,0.17],[1.87,-1.28],[1.87,-0.86],[1.87,-0.48],[1.87,-0.16]
];

// ---------------- DRAWING ----------------
const W = 1191, H = 1015;
const FONT = '"DejaVu Sans", Verdana, sans-serif';
const SERIF = '"Liberation Serif", "DejaVu Serif", serif';
const NAVY = '#1a476f', MAROON = '#90353b', GREEN = '#55752f', GRID = '#e8eff1', AXIS = '#1e1e1e';
const FS = 15;

const svg = d3.select('body').append('svg').attr('width', W).attr('height', H);

// calibration: a value and its pixel at two ticks -> domain spanning the whole box edge
function calibrated(v0, p0, v1, p1, e0, e1) {
  const k = (v1 - v0) / (p1 - p0);
  return d3.scaleLinear().domain([v0 + (e0 - p0) * k, v0 + (e1 - p0) * k]).range([e0, e1]);
}

const panels = [
  {box:{l:51,r:577,t:73,b:396}, xc:[0,61,80000,527], yc:[0,386,80000,100.5], xt:ticksA_x, yt:ticksA_y, pts:lotPoints, fx:fitA_x, fy:fitA_y, rx:refA_x, ry:refA_y, refSolid:false,
   title:{cx:291.5, y:31.5, w:297}, yTitleCY:234, legend:{y:459.5, r:[143,193], rt:203, g:[315,367], gt:375}},
  {box:{l:661,r:1185,t:73,b:396}, xc:[6,670,14,1175], yc:[6,386.3,14,82.7], xt:ticksB_x, yt:ticksB_y, pts:simPoints, fx:fitB_x, fy:fitB_y, rx:refB_x, ry:refB_y, refSolid:false,
   title:{cx:898, y:31.5, w:576}, yTitleCY:234, legend:{y:459.5, r:[752,803], rt:812, g:[923,975], gt:984}},
  {box:{l:51,r:577,t:603,b:924.5}, xc:[6,61,14,527], yc:[6,915,14,618.3], xt:ticksC_x, yt:ticksC_y, pts:diffPoints, fx:fitC_x, fy:fitC_y, rx:refC_x, ry:refC_y, refSolid:false,
   title:{cx:296, y:560.5, w:590}, yTitleCY:767, legend:{y:988, r:[143,193], rt:203, g:[315,367], gt:375}},
  {box:{l:661,r:1185,t:603,b:924.5}, xc:[-2,670,4,1175], yc:[-4,915,4,611.5], xt:ticksD_x, yt:ticksD_y, pts:plattPoints, fx:fitD_x, fy:fitD_y, rx:refD_x, ry:refD_y, refSolid:true,
   title:{cx:900.5, y:560.5, w:415}, yTitleCY:808, legend:{y:988, r:[685,736], rt:746, g:[857,909], gt:918}}
];

panels.forEach((p, i) => {
  const b = p.box;
  const x = calibrated(p.xc[0], p.xc[1], p.xc[2], p.xc[3], b.l, b.r);
  const y = calibrated(p.yc[0], p.yc[1], p.yc[2], p.yc[3], b.b, b.t);
  const g = svg.append('g');

  // gridlines
  g.append('g').selectAll('line').data(p.yt).join('line')
    .attr('x1', b.l).attr('x2', b.r).attr('y1', d => y(d)).attr('y2', d => y(d))
    .attr('stroke', GRID).attr('stroke-width', 1.3);

  // axes
  const xa = g.append('g').attr('transform', `translate(0,${b.b})`)
    .call(d3.axisBottom(x).tickValues(p.xt).tickSize(5).tickSizeOuter(0).tickPadding(5).tickFormat(d => String(d)));
  const ya = g.append('g').attr('transform', `translate(${b.l},0)`)
    .call(d3.axisLeft(y).tickValues(p.yt).tickSize(6).tickSizeOuter(0).tickFormat(d => String(d)));
  [xa, ya].forEach(a => {
    a.attr('font-family', FONT).attr('font-size', FS);
    a.select('.domain').attr('stroke', AXIS).attr('stroke-width', 1.3);
    a.selectAll('.tick line').attr('stroke', AXIS).attr('stroke-width', 1.2);
    a.selectAll('.tick text').attr('fill', '#000');
  });
  ya.selectAll('.tick text')
    .attr('transform', 'rotate(-90)').attr('x', 0).attr('y', -13).attr('dy', 0).attr('text-anchor', 'middle');

  // scatter
  g.append('g').selectAll('circle').data(p.pts).join('circle')
    .attr('cx', d => x(d[0])).attr('cy', d => y(d[1])).attr('r', 1.6).attr('fill', NAVY);

  // quadratic fit
  const fit = p.fx.map((v, k) => [v, p.fy[k]]);
  g.append('path').datum(fit)
    .attr('d', d3.line().x(d => x(d[0])).y(d => y(d[1])).curve(d3.curveMonotoneX))
    .attr('fill', 'none').attr('stroke', MAROON).attr('stroke-width', 3.4);

  // reference line
  const ref = p.rx.map((v, k) => [v, p.ry[k]]);
  const rp = g.append('path').datum(ref)
    .attr('d', d3.line().x(d => x(d[0])).y(d => y(d[1])))
    .attr('fill', 'none').attr('stroke', GREEN);
  if (p.refSolid) rp.attr('stroke-width', 4.2);
  else rp.attr('stroke-width', 3.3).attr('stroke-dasharray', '12,5');

  // axis titles
  g.append('text').attr('x', (b.l + b.r) / 2).attr('y', b.b + 38.5)
    .attr('text-anchor', 'middle').attr('font-family', FONT).attr('font-size', FS).text(xTitles[i]);
  g.append('text').attr('transform', `translate(${b.l - 31},${p.yTitleCY}) rotate(-90)`)
    .attr('text-anchor', 'middle').attr('font-family', FONT).attr('font-size', FS).text(yTitles[i]);

  // panel title
  g.append('text').attr('x', p.title.cx).attr('y', p.title.y)
    .attr('text-anchor', 'middle').attr('font-family', SERIF).attr('font-size', 25.5)
    .attr('textLength', p.title.w).attr('lengthAdjust', 'spacingAndGlyphs').text(panelTitles[i]);

  // legend
  const L = p.legend;
  g.append('line').attr('x1', L.r[0]).attr('x2', L.r[1]).attr('y1', L.y).attr('y2', L.y)
    .attr('stroke', MAROON).attr('stroke-width', 3.4);
  g.append('text').attr('x', L.rt).attr('y', L.y + 5.5).attr('font-family', FONT).attr('font-size', FS).text(legendFit);
  g.append('line').attr('x1', L.g[0]).attr('x2', L.g[1]).attr('y1', L.y).attr('y2', L.y)
    .attr('stroke', GREEN).attr('stroke-width', 3.4).attr('stroke-dasharray', '14,5');
  g.append('text').attr('x', L.gt).attr('y', L.y + 5.5).attr('font-family', FONT).attr('font-size', FS).text(legendRef[i]);
});
</script>
</body></html>
